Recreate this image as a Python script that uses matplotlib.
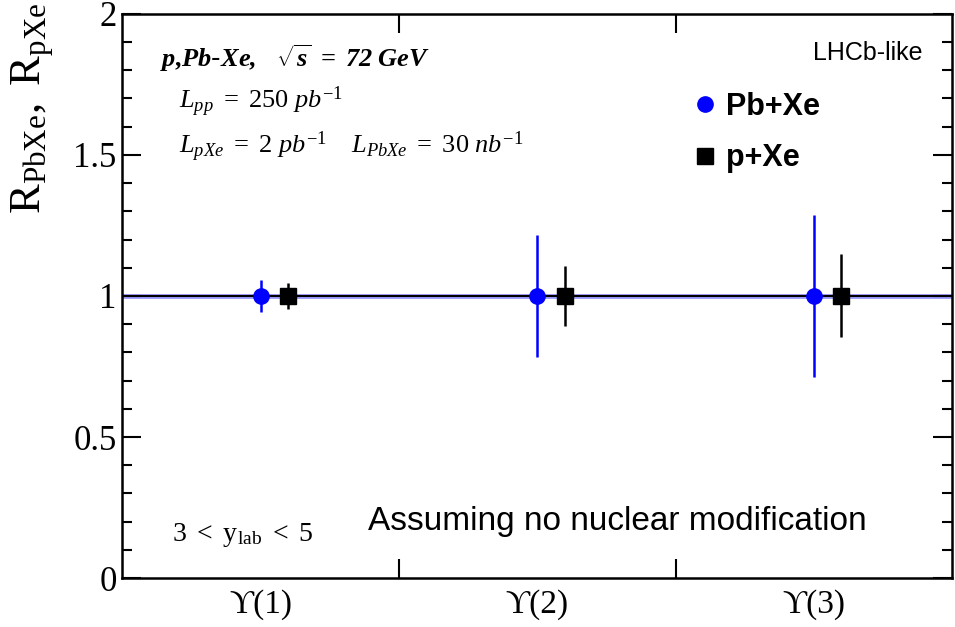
import numpy as np
import matplotlib
matplotlib.use("Agg")
import matplotlib.pyplot as plt
from matplotlib.ticker import MultipleLocator
from matplotlib.lines import Line2D

# valores
categorias = ["ϒ(1)", "ϒ(2)", "ϒ(3)"]
r_pbxe = [1.0, 1.0, 1.0]
err_pbxe = [0.058, 0.215, 0.287]
r_pxe = [1.0, 1.0, 1.0]
err_pxe = [0.046, 0.106, 0.147]

plt.rcParams["mathtext.fontset"] = "custom"
plt.rcParams["mathtext.rm"] = "Liberation Serif"
plt.rcParams["mathtext.it"] = "Liberation Serif:italic"
plt.rcParams["mathtext.bf"] = "Liberation Serif:bold"
plt.rcParams["mathtext.bfit"] = "Liberation Serif:italic:bold"

fig = plt.figure(figsize=(9.55, 6.27), dpi=100)
ax = fig.add_axes([0.128, 0.078, 0.869, 0.9])

x = np.arange(len(categorias)) + 0.5

# linha de referência em 1
ax.axhline(1.0, color="#4a4aff", lw=3.5, alpha=0.55, zorder=1)
ax.axhline(1.0, color="black", lw=1.5, zorder=2)

ax.errorbar(x, r_pbxe, yerr=err_pbxe, fmt="o", color="blue", ms=11,
            elinewidth=1.8, capsize=0, zorder=3)
ax.errorbar(x + 0.1, r_pxe, yerr=err_pxe, fmt="s", color="black", ms=12,
            elinewidth=1.8, capsize=0, zorder=3)

ax.set_xlim(0, 3)
ax.set_ylim(0, 2)
ax.set_xticks([1, 2])
ax.set_xticklabels([])
for xi, nome in zip(x, categorias):
    ax.text(xi, -0.04, nome, ha="center", va="top", fontsize=24,
            family=["Liberation Serif", "DejaVu Serif"], transform=ax.transData)

ax.yaxis.set_major_locator(MultipleLocator(0.5))
ax.yaxis.set_minor_locator(MultipleLocator(0.1))
ax.set_yticks([0, 0.5, 1, 1.5, 2])
ax.set_yticklabels(["0", "0.5", "1", "1.5", "2"], family="Liberation Serif", fontsize=25)
ax.tick_params(axis="both", which="major", direction="in", length=14, width=1.5,
               top=True, right=True, pad=4)
ax.tick_params(axis="y", which="minor", direction="in", length=7, width=1.5, right=True)
for s in ax.spines.values():
    s.set_linewidth(1.8)

ax.set_ylabel(r"$\mathrm{R_{PbXe},\ R_{pXe}}$", fontsize=32, loc="top")
ax.yaxis.set_label_coords(-0.08, 1.02)

# textos
ax.text(0.045, 0.905, r"$\mathbfit{p{,}Pb}$-$\mathbfit{Xe,}$  $\sqrt{\mathbfit{s}}\ \mathbf{=}\ \mathbfit{72\ GeV}$",
        transform=ax.transAxes, fontsize=19)
ax.text(0.068, 0.833, r"$\mathit{L_{pp}\ =\ 250\ pb^{-1}}$", transform=ax.transAxes, fontsize=19)
ax.text(0.068, 0.753, r"$\mathit{L_{pXe}\ =\ 2\ pb^{-1}}$   $\mathit{L_{PbXe}\ =\ 30\ nb^{-1}}$",
        transform=ax.transAxes, fontsize=19)
ax.text(0.964, 0.918, "LHCb-like", transform=ax.transAxes, ha="right", fontsize=18,
        family="Liberation Sans")
ax.text(0.596, 0.085, "Assuming no nuclear modification", transform=ax.transAxes,
        ha="center", fontsize=24, family="Liberation Sans")
ax.text(0.06, 0.065, r"$\mathrm{3\ <\ y_{lab}\ <\ 5}$", transform=ax.transAxes, fontsize=20)

handles = [Line2D([], [], marker="o", color="blue", ls="none", ms=11),
           Line2D([], [], marker="s", color="black", ls="none", ms=11)]
ax.legend(handles, ["Pb+Xe", "p+Xe"], loc="upper left", bbox_to_anchor=(0.658, 0.91),
          frameon=False, prop={"family": "Liberation Sans", "weight": "bold", "size": 22},
          handlelength=0.6, handletextpad=0.4, labelspacing=0.7)

fig.savefig("out.png", dpi=100)
